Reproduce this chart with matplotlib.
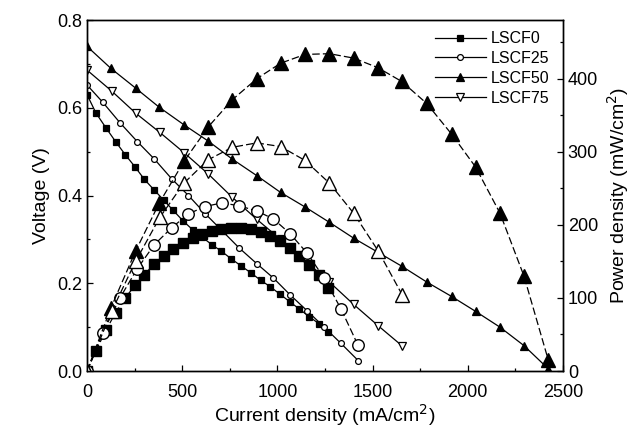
import matplotlib
matplotlib.use("Agg")
import matplotlib.pyplot as plt
from matplotlib.ticker import MultipleLocator
from matplotlib import font_manager

plt.rcParams['font.family'] = ['Liberation Sans', 'DejaVu Sans']

# ---------------- data ----------------
I0 = [0, 47, 100, 150, 201, 251, 301, 352, 402, 453, 505, 555, 605, 656, 706,
      757, 808, 860, 912, 963, 1014, 1065, 1116, 1167, 1218, 1268]
V0 = [0.630, 0.588, 0.554, 0.523, 0.493, 0.466, 0.437, 0.413, 0.390, 0.366,
      0.342, 0.322, 0.305, 0.288, 0.273, 0.256, 0.240, 0.224, 0.207, 0.192,
      0.175, 0.158, 0.141, 0.124, 0.108, 0.089]
P0 = [0, 28, 56, 80, 100, 117, 132, 146, 157, 167, 175, 182, 187, 191, 194,
      196, 196, 194, 190, 185, 178, 168, 157, 145, 131, 114]

I25 = [0, 82, 173, 264, 354, 445, 533, 620, 709, 798, 891, 979, 1066, 1157,
       1246, 1334, 1424]
V25 = [0.652, 0.613, 0.566, 0.523, 0.483, 0.438, 0.400, 0.359, 0.320, 0.281,
       0.245, 0.212, 0.174, 0.137, 0.100, 0.063, 0.024]
P25 = [0, 52, 100, 140, 173, 196, 215, 225, 230, 226, 219, 208, 188, 161,
       127, 85, 35]

I50 = [0, 125, 255, 380, 510, 637, 763, 893, 1017, 1145, 1273, 1400, 1527,
       1653, 1784, 1915, 2041, 2169, 2295, 2423]
V50 = [0.740, 0.690, 0.645, 0.601, 0.561, 0.524, 0.483, 0.445, 0.407, 0.374,
       0.339, 0.303, 0.271, 0.239, 0.203, 0.170, 0.136, 0.100, 0.058, 0.005]
P50 = [0, 86, 164, 230, 287, 334, 371, 400, 421, 433, 434, 428, 415, 396,
       366, 324, 279, 216, 130, 15]

I75 = [0, 130, 255, 382, 509, 637, 763, 891, 1017, 1145, 1273, 1400, 1530, 1656]
V75 = [0.686, 0.638, 0.588, 0.544, 0.498, 0.449, 0.396, 0.346, 0.300, 0.252,
       0.203, 0.152, 0.103, 0.057]
P75 = [0, 82, 150, 210, 257, 289, 306, 312, 307, 288, 257, 216, 164, 104]

labels = ["LSCF0", "LSCF25", "LSCF50", "LSCF75"]
x_ticks = [0, 500, 1000, 1500, 2000, 2500]
v_ticks = [0.0, 0.2, 0.4, 0.6, 0.8]
p_ticks = [0, 100, 200, 300, 400]

# ---------------- figure ----------------
names = {f.name for f in font_manager.fontManager.ttflist}
leg_family = ['Liberation Sans Narrow'] if 'Liberation Sans Narrow' in names else ['Liberation Sans']
leg_size = 13 if 'Liberation Sans Narrow' in names else 11.5

fig = plt.figure(figsize=(6.38, 4.36), dpi=100)
ax = fig.add_axes([0.1364, 0.149, 0.7460, 0.805])
ax2 = ax.twinx()

lw = 0.9

series = [
    (I0, V0, P0, 's', 'black', 's', 'black', 3.8, 7.8),
    (I25, V25, P25, 'o', 'white', 'o', 'white', 4.2, 8.3),
    (I50, V50, P50, '^', 'black', '^', 'black', 5.2, 10.0),
    (I75, V75, P75, 'v', 'white', '^', 'white', 5.2, 10.0),
]

handles = []
for (I, V, P, mv, fcv, mp, fcp, msv, msp), lab in zip(series, labels):
    h, = ax.plot(I, V, color='black', lw=lw, marker=mv, ms=msv,
                 mfc=fcv, mec='black', mew=0.9, label=lab)
    handles.append(h)
    ax2.plot(I, P, color='black', lw=lw, ls=(0, (6, 2.5)), marker=mp, ms=msp,
             mfc=fcp, mec='black', mew=1.0)

ax.set_xlim(0, 2500)
ax.set_ylim(0, 0.8)
ax2.set_ylim(0, 480)

ax.set_xticks(x_ticks)
ax.set_yticks(v_ticks)
ax.set_yticklabels([f"{v:.1f}" for v in v_ticks])
ax2.set_yticks(p_ticks)
ax.xaxis.set_minor_locator(MultipleLocator(250))
ax.yaxis.set_minor_locator(MultipleLocator(0.1))
ax2.yaxis.set_minor_locator(MultipleLocator(50))

for a in (ax, ax2):
    a.tick_params(which='both', direction='in', labelsize=13, width=0.9)
    a.tick_params(which='major', length=4)
    a.tick_params(which='minor', length=2.5)
    for s in a.spines.values():
        s.set_linewidth(1.0)
ax.tick_params(axis='x', pad=9)

ax.set_xlabel("Current density (mA/cm$^2$)", fontsize=14, labelpad=1)
ax.set_ylabel("Voltage (V)", fontsize=14, labelpad=5)
ax2.set_ylabel("Power density (mW/cm$^2$)", fontsize=14, labelpad=5)

leg = ax.legend(handles=handles, loc='upper right', frameon=False,
                prop={'family': leg_family, 'size': leg_size},
                handlelength=3.2, handletextpad=0.3,
                labelspacing=0.3, borderaxespad=0.3,
                bbox_to_anchor=(0.995, 1.0))

fig.savefig("out.png", dpi=100)
